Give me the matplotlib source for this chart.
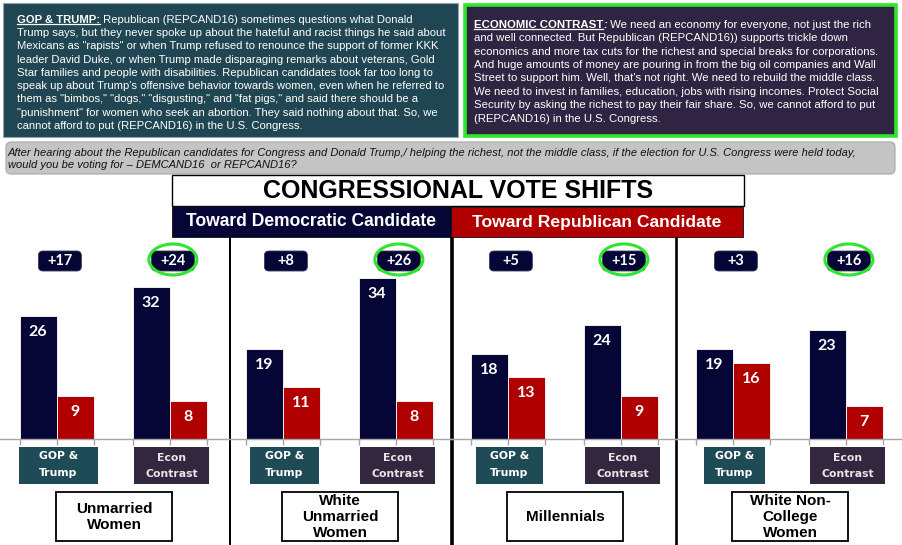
"""
Congressional vote shifts by message and group — recreated infographic.
Writes out.png (902x545).
"""

import matplotlib
matplotlib.use("Agg")
import matplotlib.pyplot as plt
from matplotlib import font_manager as fm
from matplotlib.patches import Rectangle, FancyBboxPatch, Ellipse

# ── Data ──────────────────────────────────────────────────────────────────────
groups     = ["Unmarried\nWomen", "White\nUnmarried\nWomen", "Millennials",
              "White Non-\nCollege\nWomen"]
messages   = [("GOP &", "Trump"), ("Econ", "Contrast")]
dem_gop    = [26, 19, 18, 19]
rep_gop    = [9, 11, 13, 16]
dem_econ   = [32, 34, 24, 23]
rep_econ   = [8, 8, 9, 7]
shift_gop  = [17, 8, 5, 3]
shift_econ = [24, 26, 15, 16]

left_head = "GOP & TRUMP:"
left_lines = [
    " Republican (REPCAND16) sometimes questions what Donald",
    "Trump says, but they never spoke up about the hateful and racist things he said about",
    "Mexicans as \"rapists\" or when Trump refused to renounce the support of former KKK",
    "leader David Duke, or when Trump made disparaging remarks about veterans, Gold",
    "Star families and people with disabilities. Republican candidates took far too long to",
    "speak up about Trump's offensive behavior towards women, even when he referred to",
    "them as \"bimbos,\" \"dogs,\" \"disgusting,\" and \"fat pigs,\" and said there should be a",
    "\"punishment\" for women who seek an abortion. They said nothing about that. So, we",
    "cannot afford to put (REPCAND16) in the U.S. Congress.",
]
right_head = "ECONOMIC CONTRAST"
right_lines = [
    " We need an economy for everyone, not just the rich",
    "and well connected. But Republican (REPCAND16)) supports trickle down",
    "economics and more tax cuts for the richest and special breaks for corporations.",
    "And huge amounts of money are pouring in from the big oil companies and Wall",
    "Street to support him. Well, that's not right. We need to rebuild the middle class.",
    "We need to invest in families, education, jobs with rising incomes. Protect Social",
    "Security by asking the richest to pay their fair share. So, we cannot afford to put",
    "(REPCAND16) in the U.S. Congress.",
]
question = [
    "After hearing about the Republican candidates for Congress and Donald Trump,/ helping "
    "the richest, not the middle class, if the election for U.S. Congress were held today,",
    "would you be voting for \u2013 DEMCAND16  or REPCAND16?",
]
title = "CONGRESSIONAL VOTE SHIFTS"
dem_header = "Toward Democratic Candidate"
rep_header = "Toward Republican Candidate"

# ── Style ─────────────────────────────────────────────────────────────────────
NAVY = "#050536"
RED = "#b00000"
GREEN = "#2ee62e"
TEAL_BOX = "#1f4652"
PURPLE_BOX = "#2f2542"
TEAL_CAT = "#1f4b56"
PURPLE_CAT = "#33263f"

SANS = "Liberation Sans"
installed = {f.name for f in fm.fontManager.ttflist}
NARROW = "Liberation Sans Narrow" if "Liberation Sans Narrow" in installed else SANS
NUM = "Lato" if "Lato" in installed else "DejaVu Sans"

W, H = 902, 545
fig = plt.figure(figsize=(W / 100, H / 100), dpi=100)
ax_bg = fig.add_axes([0, 0, 1, 1])
ax_bg.set_xlim(0, W)
ax_bg.set_ylim(H, 0)
ax_bg.axis("off")
rend = fig.canvas.get_renderer()


def fit(t, target):
    w = t.get_window_extent(rend).width
    t.set_fontsize(t.get_fontsize() * target / w)
    return t


def text_width(s, **kw):
    t = ax_bg.text(0, 0, s, **kw)
    w = t.get_window_extent(rend).width
    t.remove()
    return w


# ── Top message boxes ─────────────────────────────────────────────────────────
ax_bg.add_patch(Rectangle((3, 3), 455, 134, fc=TEAL_BOX, ec="#8fa3a9", lw=0.8))
ax_bg.add_patch(Rectangle((464.5, 4.5), 431, 131, fc=PURPLE_BOX, ec=GREEN, lw=2.6))


def paragraph(x0, base0, dy, head, lines, fs, colon=""):
    h = ax_bg.text(x0, base0, head, color="white", fontsize=fs, fontweight="bold",
                   family=SANS, va="baseline", ha="left")
    bb = h.get_window_extent(rend)
    x_end = bb.x1
    ax_bg.plot([x0, x_end], [base0 + 1.6, base0 + 1.6], color="white", lw=0.9)
    if colon:
        c = ax_bg.text(x_end, base0, colon, color="white", fontsize=fs, fontweight="bold",
                       fontstyle="italic", family=SANS, va="baseline", ha="left")
        x_end = c.get_window_extent(rend).x1
    ax_bg.text(x_end, base0, lines[0], color="white", fontsize=fs, family=SANS,
               va="baseline", ha="left")
    for k, s in enumerate(lines[1:], start=1):
        ax_bg.text(x0, base0 + k * dy, s, color="white", fontsize=fs, family=SANS,
                   va="baseline", ha="left")


fs_left = 10 * 427 / text_width(left_lines[1], fontsize=10, family=SANS)
fs_right = 10 * 407 / text_width(right_lines[2], fontsize=10, family=SANS)
paragraph(17, 22.8, 13.25, left_head, left_lines, fs_left)
paragraph(474, 27.8, 13.4, right_head, right_lines, fs_right, colon=":")

# ── Question bar ──────────────────────────────────────────────────────────────
ax_bg.add_patch(FancyBboxPatch((6, 142), 889, 32, boxstyle="round,pad=0,rounding_size=5",
                               fc="#c4c4c4", ec="#a8a8a8", lw=0.8))
q1 = ax_bg.text(8, 153, question[0], fontsize=8, fontstyle="italic", family=NARROW,
                va="center", ha="left", color="#111111")
fit(q1, 855)
ax_bg.text(8, 165.5, question[1], fontsize=q1.get_fontsize(), fontstyle="italic",
           family=NARROW, va="center", ha="left", color="#111111")

# ── Title and headers ─────────────────────────────────────────────────────────
ax_bg.add_patch(Rectangle((172, 175), 572, 31, fc="white", ec="black", lw=1.0))
ax_bg.add_patch(Rectangle((172, 206), 279, 31, fc=NAVY, ec="#111111", lw=0.6))
ax_bg.add_patch(Rectangle((451, 207), 292, 30, fc=RED, ec="#111111", lw=0.6))
fit(ax_bg.text(458, 191.5, title, fontsize=18, fontweight="bold", family=SANS,
               ha="center", va="center", color="black"), 391)
fit(ax_bg.text(311.5, 222, dem_header, fontsize=12, fontweight="bold", family=SANS,
               ha="center", va="center", color="white"), 250)
fit(ax_bg.text(597, 222, rep_header, fontsize=12, fontweight="bold", family=SANS,
               ha="center", va="center", color="white"), 248)

# panel separators
for xs, lw in [(230, 1.4), (452, 2.6), (676, 1.9)]:
    ax_bg.plot([xs, xs], [237, H], color="black", lw=lw, solid_capstyle="butt")

# ── Bar panels ────────────────────────────────────────────────────────────────
PANEL_L = [0, 226, 451, 676]
PANEL_W = 226
BASE, TOP = 439, 240      # pixel rows of baseline and panel top
PX = 4.74                 # pixels per percentage point
XPX = PANEL_W / 2.0       # pixels per x unit
BW = 37 / XPX


def ypx(p):
    return (BASE - p) / PX


for i in range(4):
    ax = fig.add_axes([PANEL_L[i] / W, (H - BASE) / H, PANEL_W / W, (BASE - TOP) / H])
    ax.set_xlim(-0.5, 1.5)
    ax.set_ylim(0, (BASE - TOP) / PX)
    ax.patch.set_visible(False)
    for s in ["top", "left", "right"]:
        ax.spines[s].set_visible(False)
    ax.spines["bottom"].set_color("#a6a6a6")
    ax.spines["bottom"].set_linewidth(1.0)

    dem = [dem_gop[i], dem_econ[i]]
    rep = [rep_gop[i], rep_econ[i]]
    shifts = [shift_gop[i], shift_econ[i]]
    ax.bar([0, 1], dem, width=-BW, align="edge", color=NAVY, edgecolor="white", lw=0.6)
    ax.bar([0, 1], rep, width=BW, align="edge", color=RED, edgecolor="white", lw=0.6)
    ax.set_xticks([-BW, 0, BW, 1 - BW, 1, 1 + BW])
    ax.set_xticklabels([])
    ax.set_yticks([])
    ax.tick_params(axis="x", length=4, color="#a6a6a6", direction="out", width=1.0)

    for g in range(2):
        ax.text(g - BW / 2, dem[g] - 16 / PX, str(dem[g]), color="white",
                fontsize=11.5, fontweight="bold", family=NUM, ha="center", va="center")
        ax.text(g + BW / 2, rep[g] - 16 / PX, str(rep[g]), color="white",
                fontsize=11.5, fontweight="bold", family=NUM, ha="center", va="center")

        # shift label
        cx, cy = g + 0.03, ypx(261)
        ax.add_patch(FancyBboxPatch((cx - 0.19, cy - 10 / PX), 0.38, 20 / PX,
                                    boxstyle="round,pad=0,rounding_size=0.04",
                                    mutation_aspect=XPX / PX, fc=NAVY, ec="#3a3a5a",
                                    lw=0.6, clip_on=False))
        ax.text(cx, cy, f"+{shifts[g]}", color="white", fontsize=10.5, fontweight="bold",
                family=NUM, ha="center", va="center")
        if g == 1:
            ax.add_patch(Ellipse((cx, ypx(259.5)), 48 / XPX, 31 / PX, fc="none",
                                 ec=GREEN, lw=2.2, clip_on=False))

    # message boxes under the axis
    gop_w = [79, 69, 67, 61][i] / XPX
    econ_w = 75 / XPX
    for g, (wd, fc, tc) in enumerate([(gop_w, TEAL_CAT, "white"),
                                      (econ_w, PURPLE_CAT, "#e6e6e6")]):
        cx = g + 2 / XPX
        ax.add_patch(Rectangle((cx - wd / 2, ypx(484)), wd, (484 - 447) / PX,
                               fc=fc, ec="none", clip_on=False))
        l1, l2 = messages[g]
        y1, y2 = (456, 473.3) if g == 0 else (458.3, 474.3)
        for s, yy in [(l1, y1), (l2, y2)]:
            ax.text(cx, ypx(yy), s, color=tc, fontsize=7.8, fontweight="bold",
                    family="DejaVu Sans", ha="center", va="center", clip_on=False)

    # group name box
    ax.add_patch(Rectangle((0.51 - 0.515, ypx(541)), 1.03, (541 - 492) / PX,
                           fc="white", ec="black", lw=1.3, clip_on=False))
    ax.text(0.51, ypx(517), groups[i], color="black", fontsize=11, fontweight="bold",
            family=SANS, ha="center", va="center", linespacing=1.2, clip_on=False)

fig.savefig("out.png", dpi=100)
plt.close(fig)
